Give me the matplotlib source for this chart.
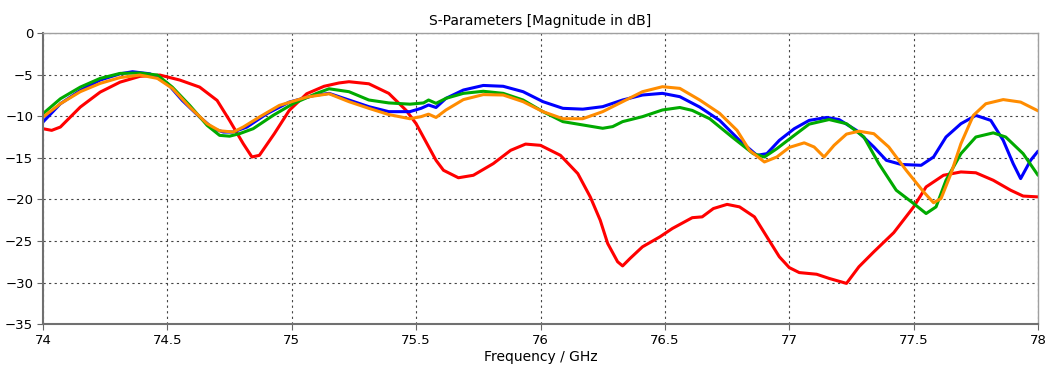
import matplotlib
matplotlib.use('Agg')
import matplotlib.pyplot as plt

# values (GHz, dB)
red_f = [74.0, 74.035, 74.07, 74.15, 74.23, 74.31, 74.39, 74.47, 74.55, 74.63,
         74.70, 74.75, 74.805, 74.84, 74.87, 74.93, 74.99, 75.06, 75.13, 75.19,
         75.23, 75.31, 75.39, 75.46, 75.50, 75.54, 75.58, 75.61, 75.67, 75.73,
         75.81, 75.88, 75.94, 76.0, 76.08, 76.15, 76.20, 76.24, 76.27, 76.31,
         76.33, 76.36, 76.41, 76.48, 76.53, 76.61, 76.65, 76.695, 76.75, 76.80,
         76.86, 76.91, 76.96, 77.0, 77.04, 77.11, 77.16, 77.23, 77.28, 77.34,
         77.42, 77.50, 77.55, 77.62, 77.69, 77.75, 77.82, 77.89, 77.94, 78.0]
red_db = [-11.5, -11.7, -11.3, -8.9, -7.1, -5.9, -5.2, -5.05, -5.65, -6.5,
          -8.1, -10.5, -13.3, -14.9, -14.7, -12.1, -9.3, -7.3, -6.4, -6.0,
          -5.85, -6.1, -7.25, -9.3, -10.9, -13.1, -15.3, -16.5, -17.4, -17.1,
          -15.7, -14.1, -13.35, -13.5, -14.7, -16.9, -19.7, -22.5, -25.3, -27.5,
          -28.0, -27.1, -25.7, -24.5, -23.5, -22.2, -22.1, -21.1, -20.6, -20.9,
          -22.1, -24.5, -26.9, -28.2, -28.8, -29.0, -29.5, -30.1, -28.1, -26.3,
          -24.0, -20.9, -18.5, -17.1, -16.7, -16.8, -17.7, -18.9, -19.6, -19.7]

blue_f = [74.0, 74.07, 74.15, 74.23, 74.31, 74.36, 74.43, 74.50, 74.56, 74.63,
          74.685, 74.725, 74.765, 74.82, 74.90, 74.99, 75.09, 75.15, 75.23, 75.31,
          75.39, 75.475, 75.52, 75.55, 75.58, 75.62, 75.69, 75.77, 75.85, 75.93,
          76.01, 76.09, 76.17, 76.25, 76.33, 76.41, 76.49, 76.56, 76.64, 76.72,
          76.80, 76.87, 76.91, 76.96, 77.02, 77.08, 77.15, 77.20, 77.27, 77.34,
          77.39, 77.45, 77.53, 77.58, 77.63, 77.69, 77.75, 77.81, 77.86, 77.90,
          77.93, 77.97, 78.0]
blue_db = [-10.7, -8.5, -6.9, -5.65, -4.9, -4.65, -4.9, -6.05, -8.1, -10.1,
           -11.5, -11.9, -11.9, -11.3, -9.7, -8.3, -7.5, -7.25, -8.05, -8.85,
           -9.45, -9.45, -9.05, -8.65, -8.95, -7.85, -6.85, -6.3, -6.4, -7.05,
           -8.25, -9.05, -9.15, -8.85, -8.05, -7.45, -7.25, -7.65, -8.9, -10.5,
           -12.9, -14.7, -14.5, -12.9, -11.5, -10.5, -10.15, -10.4, -11.7, -13.7,
           -15.3, -15.8, -15.9, -14.9, -12.5, -10.9, -9.9, -10.5, -12.9, -15.7,
           -17.5, -15.3, -14.2]

green_f = [74.0, 74.07, 74.15, 74.23, 74.31, 74.39, 74.46, 74.52, 74.59, 74.66,
           74.71, 74.75, 74.79, 74.845, 74.925, 75.005, 75.10, 75.15, 75.23, 75.31,
           75.39, 75.475, 75.53, 75.55, 75.58, 75.62, 75.69, 75.77, 75.85, 75.93,
           76.01, 76.09, 76.17, 76.25, 76.29, 76.33, 76.41, 76.49, 76.56, 76.61,
           76.68, 76.77, 76.855, 76.90, 76.95, 77.02, 77.08, 77.16, 77.23, 77.30,
           77.36, 77.43, 77.50, 77.55, 77.59, 77.63, 77.69, 77.75, 77.82, 77.87,
           77.94, 78.0]
green_db = [-9.7, -7.9, -6.5, -5.45, -4.85, -4.8, -5.05, -6.5, -8.7, -11.1,
            -12.3, -12.4, -12.1, -11.5, -9.9, -8.5, -7.25, -6.7, -7.05, -8.05,
            -8.4, -8.55, -8.4, -8.05, -8.45, -7.85, -7.25, -7.0, -7.25, -8.05,
            -9.45, -10.65, -11.05, -11.45, -11.25, -10.65, -10.05, -9.25, -8.95, -9.3,
            -10.3, -12.5, -14.5, -14.9, -13.9, -12.3, -10.95, -10.4, -10.9, -12.5,
            -15.7, -18.9, -20.5, -21.7, -20.9, -17.7, -14.5, -12.5, -12.0, -12.5,
            -14.5, -17.1]

orange_f = [74.0, 74.07, 74.15, 74.23, 74.31, 74.39, 74.46, 74.52, 74.59, 74.66,
            74.71, 74.765, 74.805, 74.87, 74.95, 75.06, 75.15, 75.23, 75.31, 75.39,
            75.475, 75.52, 75.55, 75.58, 75.62, 75.69, 75.77, 75.85, 75.93, 76.01,
            76.09, 76.17, 76.25, 76.33, 76.41, 76.49, 76.56, 76.64, 76.72, 76.79,
            76.84, 76.90, 76.95, 77.0, 77.06, 77.10, 77.14, 77.18, 77.23, 77.28,
            77.34, 77.40, 77.47, 77.54, 77.58, 77.61, 77.65, 77.69, 77.74, 77.79,
            77.86, 77.93, 78.0]
orange_db = [-10.1, -8.5, -7.05, -6.05, -5.35, -5.05, -5.45, -6.65, -8.9, -10.9,
             -11.75, -11.9, -11.3, -10.1, -8.7, -7.7, -7.3, -8.25, -9.05, -9.8,
             -10.3, -10.05, -9.75, -10.15, -9.25, -8.0, -7.4, -7.45, -8.25, -9.45,
             -10.3, -10.3, -9.45, -8.25, -7.05, -6.45, -6.65, -8.05, -9.65, -11.7,
             -14.1, -15.5, -14.9, -13.75, -13.2, -13.7, -14.9, -13.5, -12.15, -11.8,
             -12.1, -13.7, -16.5, -19.1, -20.4, -19.9, -16.9, -13.3, -9.9, -8.5,
             -8.0, -8.3, -9.35]

series = [(red_f, red_db, '#ff0000'),
          (blue_f, blue_db, '#0000ff'),
          (green_f, green_db, '#00aa00'),
          (orange_f, orange_db, '#ff8c00')]

plt.rcParams['font.family'] = ['DejaVu Sans']
fig = plt.figure(figsize=(10.53, 3.80), dpi=100)
ax = fig.add_axes([0.0408, 0.147, 0.945, 0.766])

for f, db, c in series:
    ax.plot(f, db, color=c, linewidth=2.2, solid_joinstyle='round',
            solid_capstyle='round')

ax.set_xlim(74, 78)
ax.set_ylim(-35, 0)
ax.set_xticks([74, 74.5, 75, 75.5, 76, 76.5, 77, 77.5, 78])
ax.set_xticklabels(['74', '74.5', '75', '75.5', '76', '76.5', '77', '77.5', '78'])
ax.set_yticks(range(-35, 1, 5))
ax.grid(True, color='#444444', linestyle=(0, (2, 3)), linewidth=0.8)
ax.tick_params(labelsize=9.5, length=4, color='#666666', pad=3)

for side in ['left', 'bottom']:
    ax.spines[side].set_color('#707070')
    ax.spines[side].set_linewidth(1.5)
for side in ['top', 'right']:
    ax.spines[side].set_color('#a0a0a0')
    ax.spines[side].set_linewidth(1.0)

ax.set_title('S-Parameters [Magnitude in dB]', fontsize=10, pad=6)
ax.set_xlabel('Frequency / GHz', fontsize=10, labelpad=2)

fig.savefig('out.png', dpi=100)
